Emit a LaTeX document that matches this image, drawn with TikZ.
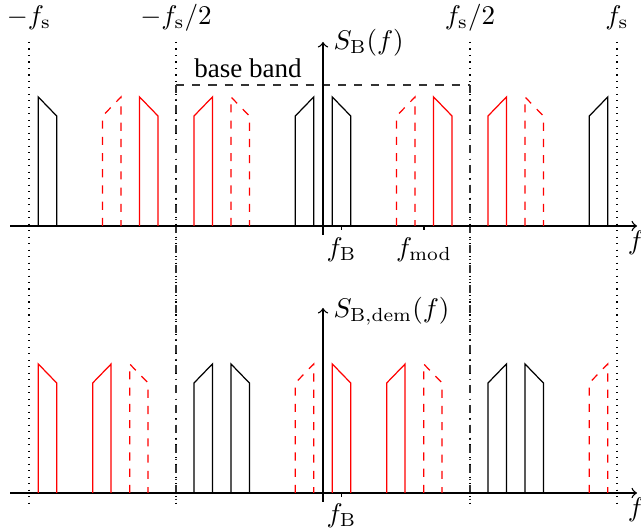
\documentclass[tikz,border=0pt]{standalone}
\usepackage[no-math]{fontspec}
\setmainfont{Liberation Serif}
\newcommand\spU[4]{\draw[#4] ({#1},#3) -- ({#1},{#3-110}) -- ({#2},{#3-129}) -- ({#2},#3);}
\newcommand\spD[4]{\draw[#4] ({#1},#3) -- ({#1},{#3-129}) -- ({#2},{#3-110}) -- ({#2},#3);}
\begin{document}
\begin{tikzpicture}[x=0.37pt,y=-0.37pt,
  lbl/.style={inner sep=0pt,font=\fontsize{10}{12}\selectfont},
  axisline/.style={->,line width=0.5pt},
  guide/.style={dotted,line width=0.4pt},
  half/.style={dashdotted,line width=0.5pt,black!80},
  blk/.style={line width=0.45pt,black},
  rds/.style={line width=0.45pt,red},
  rdd/.style={line width=0.45pt,red,dashed}]
\useasboundingbox (0,0) rectangle (641,530);
\pgfmathsetmacro{\cx}{323}
\pgfmathsetmacro{\fsx}{294}
\pgfmathsetmacro{\fmx}{101.3}
\pgfmathsetmacro{\oa}{9.3}
\pgfmathsetmacro{\ob}{27.7}
\def\ta{226}
\def\tb{493}
% guide lines
\coordinate (gA1) at (29,42);  \coordinate (gA2) at (29,503);
\coordinate (gB1) at (176,42); \coordinate (gB2) at (176,503);
\coordinate (gC1) at (470,42); \coordinate (gC2) at (470,503);
\coordinate (gD1) at (617,42); \coordinate (gD2) at (617,503);
\draw[guide] (gA1) -- (gA2);
\draw[guide] (gB1) -- (gB2);
\draw[guide] (gC1) -- (gC2);
\draw[guide] (gD1) -- (gD2);
\coordinate (hB1) at (176,85); \coordinate (hB2) at (176,503);
\coordinate (hC1) at (470,85); \coordinate (hC2) at (470,503);
\draw[half] (hB1) -- (hB2);
\draw[half] (hC1) -- (hC2);
\draw[dashed,line width=0.5pt,black!80] (hB1) -- (hC1);
% labels
\node[lbl] (lmfs) at (29,18) {$-f_\mathrm{s}$};
\node[lbl] (lmfs2) at (176,18) {$-f_\mathrm{s}/2$};
\node[lbl] (lfs2) at (470,18) {$f_\mathrm{s}/2$};
\node[lbl] (lfs) at (617,18) {$f_\mathrm{s}$};
\node[lbl] (lbb) at (248,68) {base band};
% axes
\coordinate (xa1) at (10,\ta); \coordinate (xa2) at (637,\ta);
\coordinate (ya1) at (323,235); \coordinate (ya2) at (323,42);
\coordinate (xb1) at (10,\tb); \coordinate (xb2) at (637,\tb);
\coordinate (yb1) at (323,502); \coordinate (yb2) at (323,308);
\draw[axisline] (xa1) -- (xa2);
\draw[axisline] (ya1) -- (ya2);
\draw[axisline] (xb1) -- (xb2);
\draw[axisline] (yb1) -- (yb2);
\node[lbl,anchor=west] (lsb) at (333,43) {$S_\mathrm{B}(f)$};
\node[lbl,anchor=west] (lsbd) at (333,311) {$S_\mathrm{B,dem}(f)$};
\node[lbl] (lfa) at (636,243) {$f$};
\node[lbl] (lfb) at (636,510) {$f$};
% ticks
\coordinate (t1) at (341.7,\ta); \coordinate (t2) at (424,\ta); \coordinate (t3) at (341.7,\tb);
\draw[line width=0.5pt] (t1) -- ++(0,4);
\draw[line width=0.5pt] (t2) -- ++(0,4);
\draw[line width=0.5pt] (t3) -- ++(0,4);
\node[lbl] (lfB) at (341.5,250) {$f_\mathrm{B}$};
\node[lbl] (lfm) at (424,250) {$f_\mathrm{mod}$};
\node[lbl] (lfB2) at (341.5,516) {$f_\mathrm{B}$};
% top spectrum
\spD{\cx-\fsx+\oa}{\cx-\fsx+\ob}{\ta}{blk}
\spU{\cx-\fsx+\fmx-\ob}{\cx-\fsx+\fmx-\oa}{\ta}{rdd}
\spD{\cx-\fsx+\fmx+\oa}{\cx-\fsx+\fmx+\ob}{\ta}{rds}
\spU{\cx-\fmx-\ob}{\cx-\fmx-\oa}{\ta}{rds}
\spD{\cx-\fmx+\oa}{\cx-\fmx+\ob}{\ta}{rdd}
\spU{\cx-\ob}{\cx-\oa}{\ta}{blk}
\spD{\cx+\oa}{\cx+\ob}{\ta}{blk}
\spU{\cx+\fmx-\ob}{\cx+\fmx-\oa}{\ta}{rdd}
\spD{\cx+\fmx+\oa}{\cx+\fmx+\ob}{\ta}{rds}
\spU{\cx+\fsx-\fmx-\ob}{\cx+\fsx-\fmx-\oa}{\ta}{rds}
\spD{\cx+\fsx-\fmx+\oa}{\cx+\fsx-\fmx+\ob}{\ta}{rdd}
\spU{\cx+\fsx-\ob}{\cx+\fsx-\oa}{\ta}{blk}
% bottom spectrum
\spD{\cx-\fsx+\oa}{\cx-\fsx+\ob}{\tb}{rds}
\spU{\cx-2*\fmx-\ob}{\cx-2*\fmx-\oa}{\tb}{rds}
\spD{\cx-2*\fmx+\oa}{\cx-2*\fmx+\ob}{\tb}{rdd}
\spU{\cx-\fmx-\ob}{\cx-\fmx-\oa}{\tb}{blk}
\spD{\cx-\fmx+\oa}{\cx-\fmx+\ob}{\tb}{blk}
\spU{\cx-\ob}{\cx-\oa}{\tb}{rdd}
\spD{\cx+\oa}{\cx+\ob}{\tb}{rds}
\spU{\cx+\fsx-2*\fmx-\ob}{\cx+\fsx-2*\fmx-\oa}{\tb}{rds}
\spD{\cx+\fsx-2*\fmx+\oa}{\cx+\fsx-2*\fmx+\ob}{\tb}{rdd}
\spU{\cx+\fsx-\fmx-\ob}{\cx+\fsx-\fmx-\oa}{\tb}{blk}
\spD{\cx+\fsx-\fmx+\oa}{\cx+\fsx-\fmx+\ob}{\tb}{blk}
\spU{\cx+\fsx-\ob}{\cx+\fsx-\oa}{\tb}{rdd}
\end{tikzpicture}
\end{document}
